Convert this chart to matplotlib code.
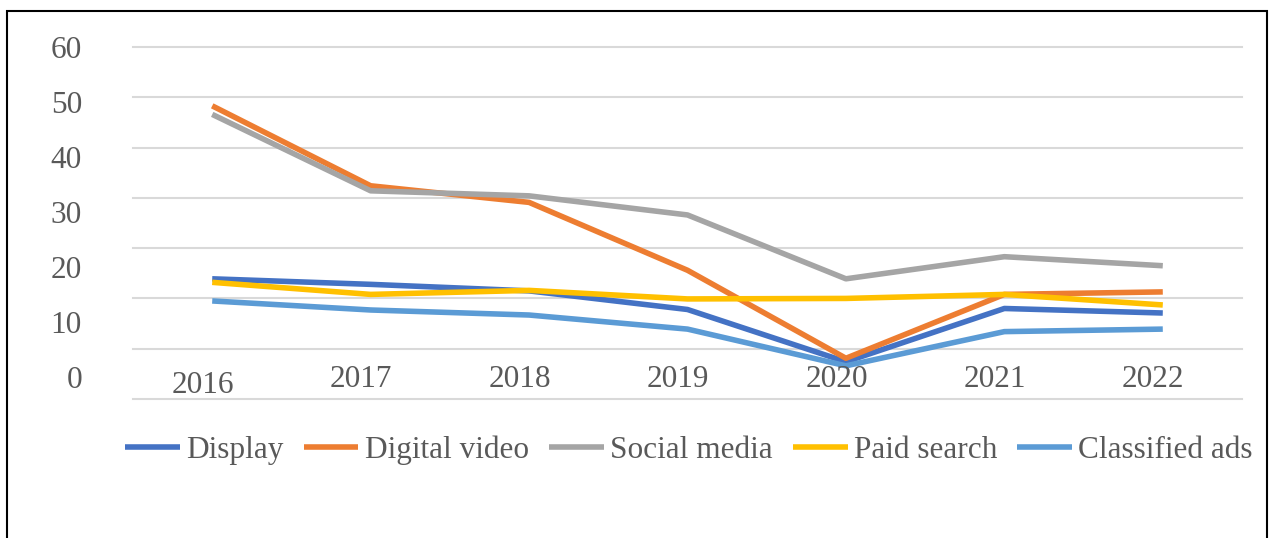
import matplotlib
matplotlib.use("Agg")
import matplotlib.pyplot as plt
from matplotlib.patches import Rectangle

# Data
years = ["2016", "2017", "2018", "2019", "2020", "2021", "2022"]
display = [13.9, 12.8, 11.5, 7.8, -2.6, 8.0, 7.1]
digital_video = [48.3, 32.4, 29.1, 15.6, -1.9, 10.8, 11.3]
social_media = [46.6, 31.4, 30.4, 26.6, 13.9, 18.3, 16.5]
paid_search = [13.2, 10.8, 11.6, 9.9, 10.0, 10.8, 8.7]
classified_ads = [9.5, 7.7, 6.7, 3.9, -3.4, 3.4, 3.9]
y_labels = ["60", "50", "40", "30", "20", "10", "0"]

series = [
    ("Display", display, "#4472C4"),
    ("Digital video", digital_video, "#ED7D31"),
    ("Social media", social_media, "#A5A5A5"),
    ("Paid search", paid_search, "#FFC000"),
    ("Classified ads", classified_ads, "#5B9BD5"),
]

plt.rcParams["font.family"] = ["Liberation Serif", "DejaVu Serif"]
text_color = "#595959"
fs = 22.5

W, H = 1269, 538
fig = plt.figure(figsize=(W / 100, H / 100), dpi=100)
ax = fig.add_axes([133 / W, (H - 399) / H, (1242 - 133) / W, (399 - 47) / H])

# outer chart frame
fig.patches.append(Rectangle((7 / W, -0.05), (1267 - 7) / W, (H - 11) / H + 0.05,
                             transform=fig.transFigure, fill=False,
                             edgecolor="black", lw=1.5))

for g in range(-10, 61, 10):
    ax.axhline(g, color="#D9D9D9", lw=1.5, zorder=0, clip_on=False)

x = list(range(len(years)))
for name, vals, color in series:
    ax.plot(x, vals, color=color, lw=4, label=name, solid_capstyle="butt")

ax.set_xlim(-0.5, len(years) - 0.5)
ax.set_ylim(-10, 60)
ax.set_xticks([])
ax.set_yticks([])
for s in ax.spines.values():
    s.set_visible(False)

# category labels sit just under the zero line
for i, yr in enumerate(years):
    ax.text(i - 0.06, -7.4 if i == 0 else -6.2, yr, ha="center", va="center",
            fontsize=fs, color=text_color)

# value labels, evenly spaced as in the reference
n = len(y_labels)
for k, lab in enumerate(y_labels):
    yv = 59.3 - k * (65.6 / (n - 1))
    ax.text(-0.046, yv, lab, transform=ax.get_yaxis_transform(),
            ha="right", va="center", fontsize=fs, color=text_color)

leg = fig.legend(loc="center", bbox_to_anchor=(689 / W, (H - 450) / H), ncol=5,
                 frameon=False, fontsize=fs, handlelength=1.75,
                 handletextpad=0.2, columnspacing=0.65)
for t in leg.get_texts():
    t.set_color(text_color)

fig.savefig("out.png", dpi=100)
